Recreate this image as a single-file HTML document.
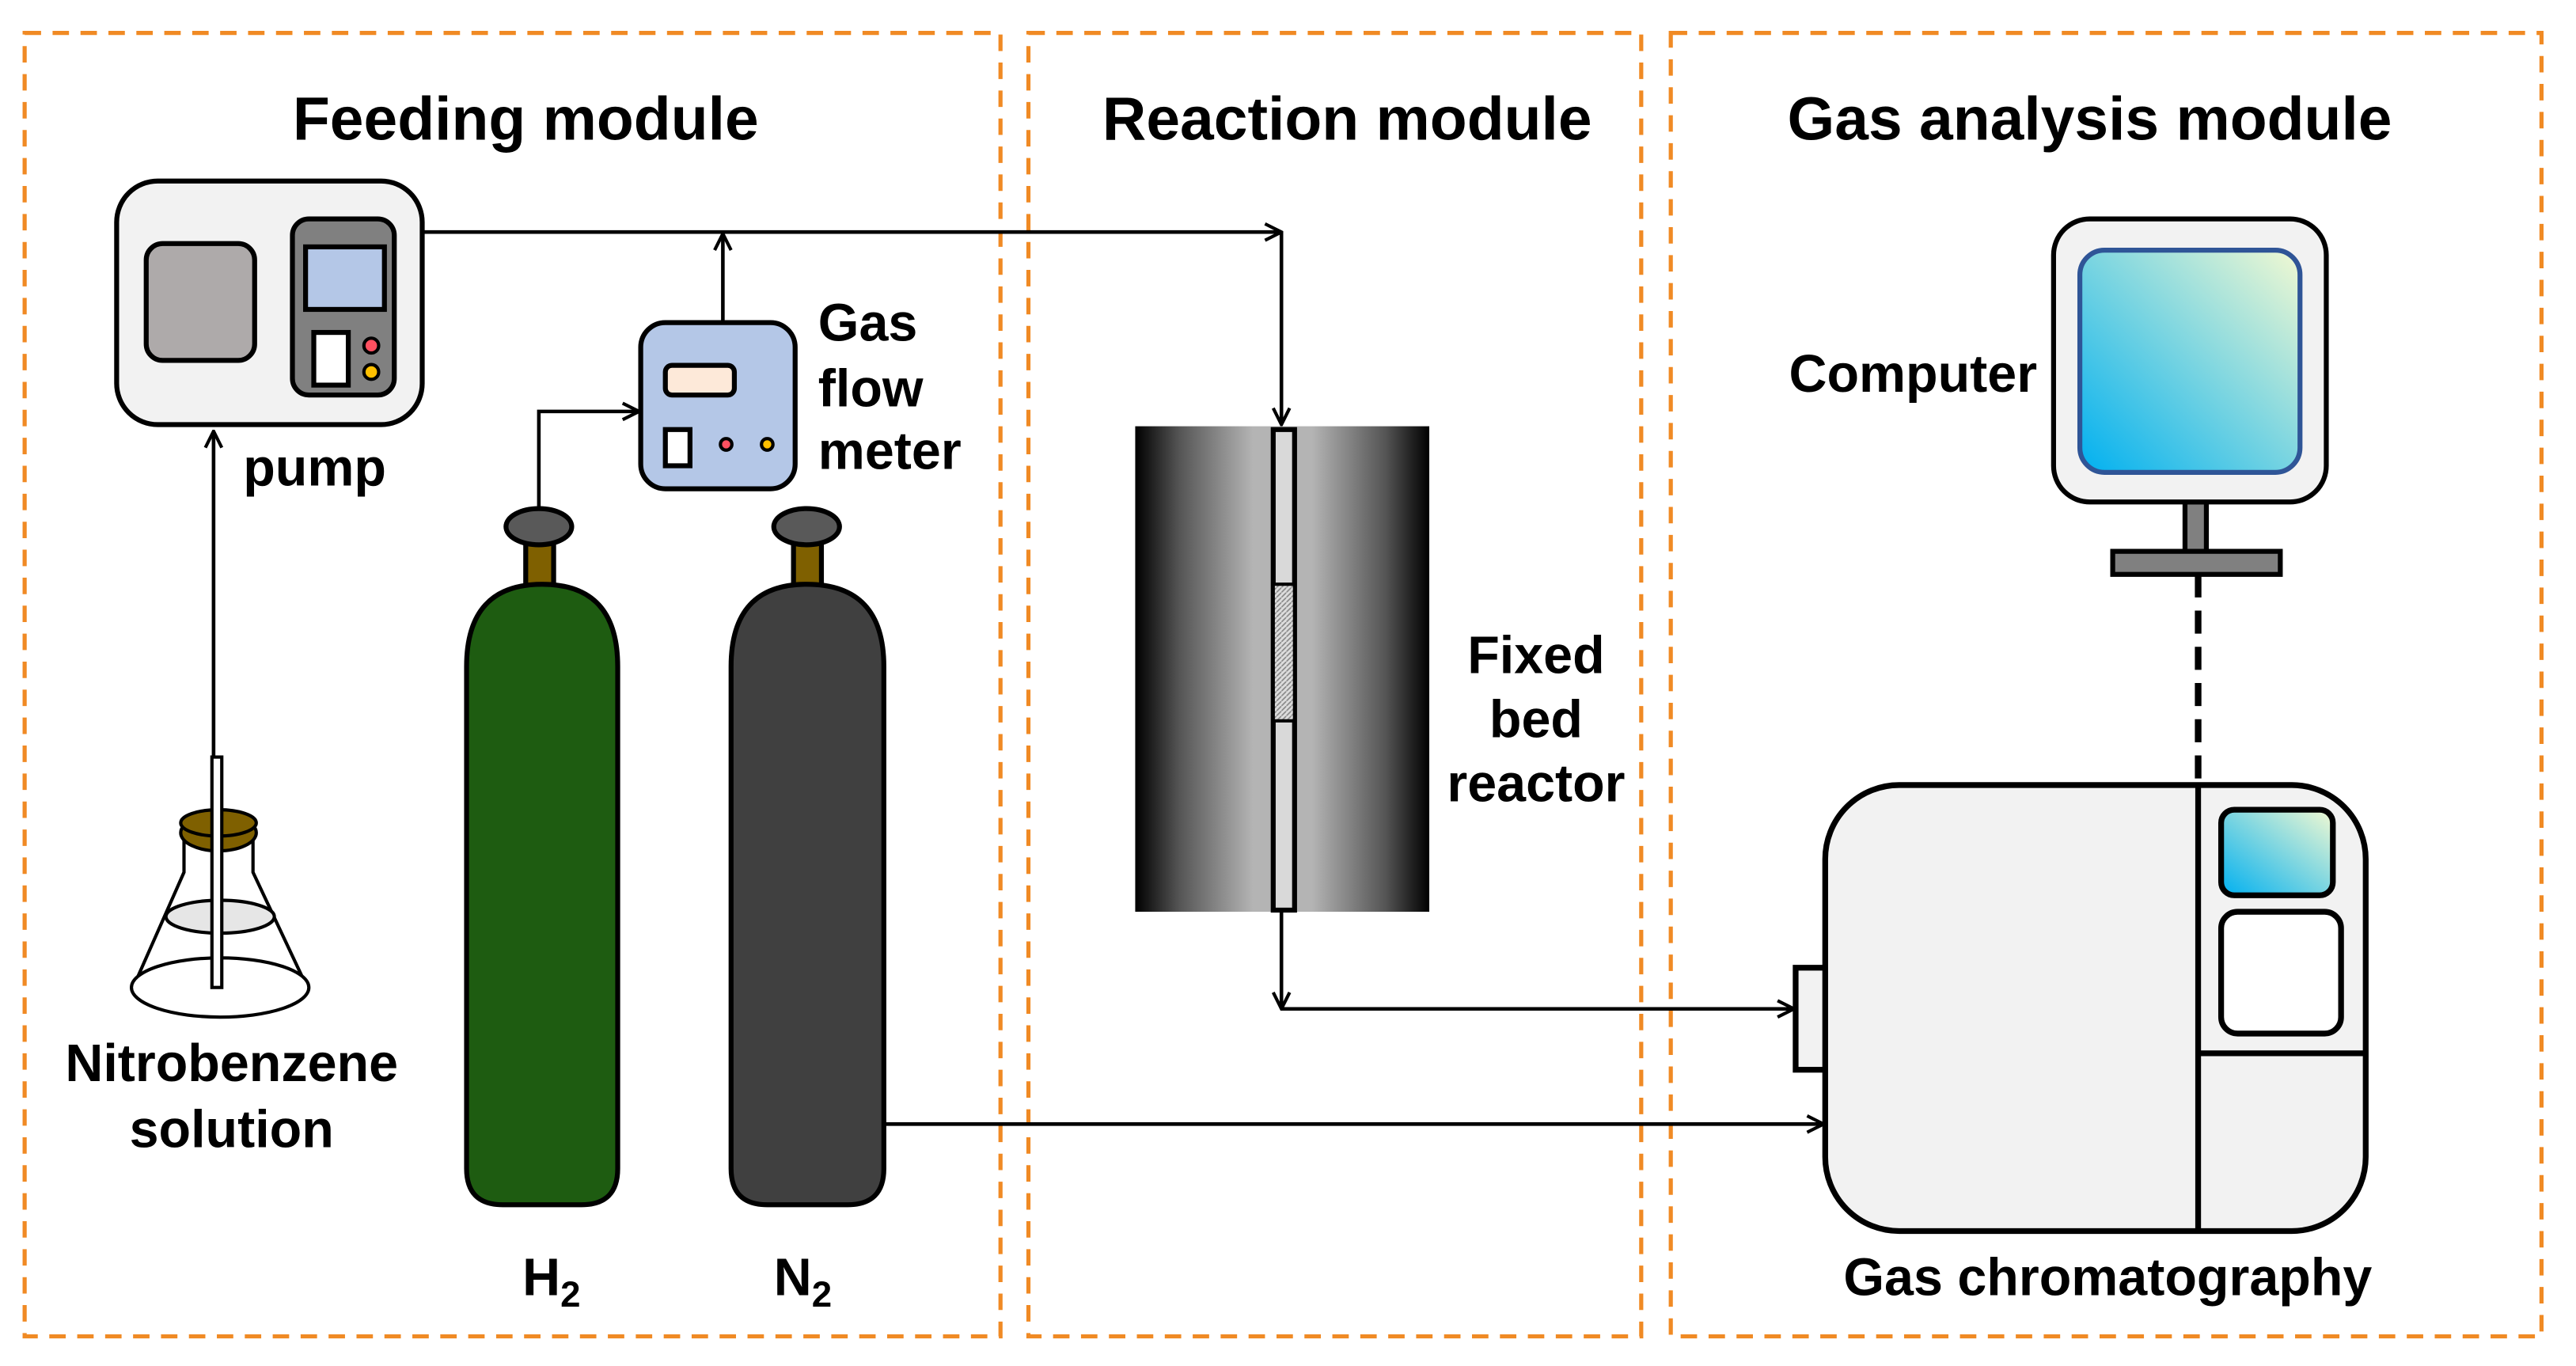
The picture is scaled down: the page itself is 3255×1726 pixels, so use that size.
<!DOCTYPE html>
<html><head><meta charset="utf-8"><style>
html,body{margin:0;padding:0;background:#fff;}
svg{display:block;}
text{font-family:"Liberation Sans",Arial,sans-serif;font-weight:bold;fill:#000;}
</style></head><body>
<svg width="3255" height="1726" viewBox="0 0 1568 830" preserveAspectRatio="none" xmlns="http://www.w3.org/2000/svg">
<defs>
<linearGradient id="rg" x1="0" y1="0" x2="1" y2="0">
<stop offset="0" stop-color="#000"/><stop offset="0.15" stop-color="#555"/><stop offset="0.4" stop-color="#b4b4b4"/><stop offset="0.6" stop-color="#b4b4b4"/><stop offset="0.85" stop-color="#555"/><stop offset="1" stop-color="#000"/>
</linearGradient>
<linearGradient id="sg" x1="0" y1="1" x2="1" y2="0">
<stop offset="0" stop-color="#00b0f0"/><stop offset="1" stop-color="#f2f9d2"/>
</linearGradient>
<pattern id="hatch" width="3" height="3" patternUnits="userSpaceOnUse"><rect width="3" height="3" fill="#ddd"/><path d="M0 3 L3 0" stroke="#888" stroke-width="0.8"/></pattern>
<marker id="ar" viewBox="0 0 12 12" refX="11" refY="6" markerWidth="12" markerHeight="12" markerUnits="userSpaceOnUse" orient="auto"><path d="M1 1 L11 6 L1 11" fill="none" stroke="#000" stroke-width="2"/></marker>
</defs>

<g fill="none" stroke="#f08a24" stroke-width="2.5" stroke-dasharray="10 7">
<rect x="15" y="20" width="594" height="792"/>
<rect x="626" y="20" width="373" height="792"/>
<rect x="1017" y="20" width="530" height="792"/>
</g>

<text x="320" y="85" font-size="37" text-anchor="middle">Feeding module</text>
<text x="820" y="85" font-size="37" text-anchor="middle">Reaction module</text>
<text x="1272" y="85" font-size="37" text-anchor="middle">Gas analysis module</text>

<g stroke="#000" stroke-width="2.2" fill="none">
<polyline points="257,141 780,141" marker-end="url(#ar)"/>
<polyline points="780,141 780,258" marker-end="url(#ar)"/>
<polyline points="440,196 440,142" marker-end="url(#ar)"/>
<polyline points="328,308 328,250 389,250" marker-end="url(#ar)"/>
<polyline points="130,460 130,262" marker-end="url(#ar)"/>
<polyline points="780,554 780,613" marker-end="url(#ar)"/>
<polyline points="780,613 1092,613" marker-end="url(#ar)"/>
<polyline points="538,683 1110,683" marker-end="url(#ar)"/>
</g>
<line x1="1338" y1="349" x2="1338" y2="478" stroke="#000" stroke-width="4" stroke-dasharray="14 8"/>

<g stroke="#000" stroke-width="3">
<rect x="71" y="110" width="186" height="148" rx="25" fill="#f2f2f2"/>
<rect x="89" y="148" width="66" height="71" rx="10" fill="#aeaaaa"/>
<rect x="178" y="133" width="62" height="107" rx="10" fill="#808080"/>
<rect x="186" y="150" width="48" height="38" fill="#b4c7e7"/>
<rect x="191" y="202" width="21" height="32" fill="#fff"/>
<circle cx="226" cy="210" r="4.5" fill="#ff5060" stroke-width="2"/>
<circle cx="226" cy="226" r="4.5" fill="#ffc000" stroke-width="2"/>
</g>
<text x="148" y="295" font-size="32">pump</text>

<g stroke="#000" stroke-width="3">
<rect x="390" y="196" width="94" height="101" rx="15" fill="#b4c7e7"/>
<rect x="405" y="222" width="42" height="18" rx="4" fill="#fde9d9"/>
<rect x="405" y="261" width="15" height="22" fill="#fff"/>
<circle cx="442" cy="270" r="3.5" fill="#ff5060" stroke-width="2"/>
<circle cx="467" cy="270" r="3.5" fill="#ffc000" stroke-width="2"/>
</g>
<text x="498" y="207" font-size="32">Gas</text>
<text x="498" y="247" font-size="32">flow</text>
<text x="498" y="285" font-size="32">meter</text>

<g stroke="#000" stroke-width="3">
<rect x="320" y="328" width="17" height="28" fill="#7f6000"/>
<ellipse cx="328" cy="320" rx="20" ry="11" fill="#595959"/>
<path d="M284 405 Q284 355 330 355 Q376 355 376 405 L376 710 Q376 732 354 732 L306 732 Q284 732 284 710 Z" fill="#1e5c11"/>
<rect x="483" y="328" width="17" height="28" fill="#7f6000"/>
<ellipse cx="491" cy="320" rx="20" ry="11" fill="#595959"/>
<path d="M445 405 Q445 355 491 355 Q538 355 538 405 L538 710 Q538 732 516 732 L467 732 Q445 732 445 710 Z" fill="#404040"/>
</g>
<text x="318" y="787" font-size="32">H<tspan font-size="22" dy="7">2</tspan></text>
<text x="471" y="787" font-size="32">N<tspan font-size="22" dy="7">2</tspan></text>

<g stroke="#000" stroke-width="2" fill="none">
<path d="M112 508 L112 530 L81 600 M154 508 L154 530 L187 600"/>
<ellipse cx="134" cy="600" rx="54" ry="18" fill="#fff"/>
<ellipse cx="134" cy="557" rx="33" ry="10" fill="#e6e6e6"/>
<ellipse cx="133" cy="506" rx="23" ry="11" fill="#7f6000"/>
<ellipse cx="133" cy="500" rx="23" ry="8" fill="#7f6000"/>
<rect x="129" y="460" width="6" height="140" fill="#fff"/>
</g>
<text x="141" y="657" font-size="32" text-anchor="middle">Nitrobenzene</text>
<text x="141" y="697" font-size="32" text-anchor="middle">solution</text>

<rect x="691" y="259" width="179" height="295" fill="url(#rg)"/>
<rect x="775" y="261" width="13" height="292" fill="#d9d9d9" stroke="#000" stroke-width="3"/>
<rect x="776" y="355" width="11" height="83" fill="url(#hatch)"/>
<line x1="775" y1="355" x2="788" y2="355" stroke="#000" stroke-width="2"/>
<line x1="775" y1="438" x2="788" y2="438" stroke="#000" stroke-width="2"/>
<text x="935" y="409" font-size="32" text-anchor="middle">Fixed</text>
<text x="935" y="448" font-size="32" text-anchor="middle">bed</text>
<text x="935" y="487" font-size="32" text-anchor="middle">reactor</text>

<g stroke="#000" stroke-width="3">
<rect x="1330" y="305" width="13" height="31" fill="#808080"/>
<rect x="1286" y="335" width="102" height="14" fill="#808080"/>
<rect x="1250" y="133" width="166" height="172" rx="22" fill="#f2f2f2"/>
<rect x="1266" y="152" width="134" height="135" rx="15" fill="url(#sg)" stroke="#2f5597"/>
</g>
<text x="1240" y="238" font-size="32" text-anchor="end">Computer</text>

<g stroke="#000" stroke-width="3.5">
<rect x="1093" y="588" width="19" height="62" fill="#f2f2f2"/>
<rect x="1111" y="477" width="329" height="271" rx="45" fill="#f2f2f2"/>
<line x1="1338" y1="477" x2="1338" y2="748"/>
<line x1="1338" y1="640" x2="1440" y2="640"/>
<rect x="1352" y="492" width="68" height="52" rx="8" fill="url(#sg)"/>
<rect x="1352" y="554" width="73" height="74" rx="10" fill="#fff"/>
</g>
<text x="1283" y="787" font-size="32" text-anchor="middle">Gas chromatography</text>
</svg>
</body></html>
